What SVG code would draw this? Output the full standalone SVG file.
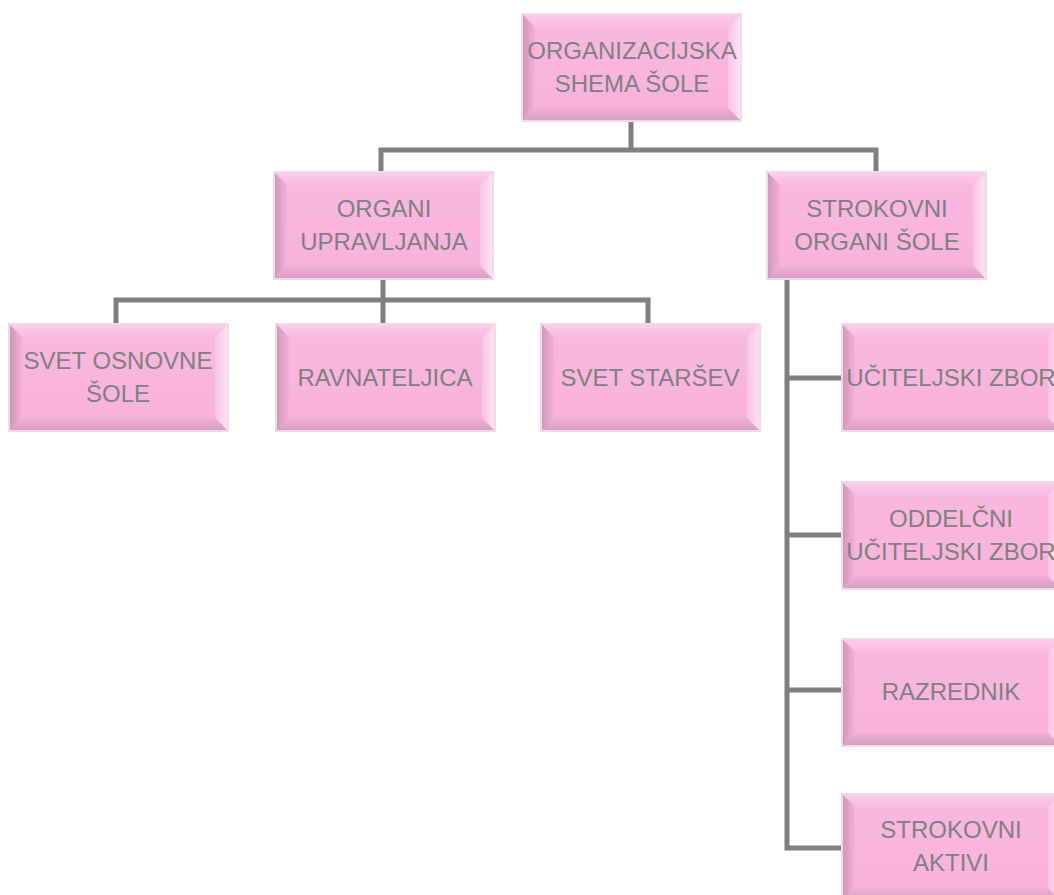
<svg xmlns="http://www.w3.org/2000/svg" width="1054" height="895" viewBox="0 0 1054 895">
<style>
.t{font-family:"Liberation Sans",Arial,sans-serif;font-size:24px;fill:#808080;text-anchor:middle}
.c{stroke:#7f7f7f;stroke-width:5;fill:none;stroke-linejoin:miter}
</style>
<defs>
<linearGradient id="gl" x1="0" y1="0" x2="1" y2="0"><stop offset="0" stop-color="#cf97b9"/><stop offset="1" stop-color="#f4b0d9"/></linearGradient>
<linearGradient id="gt" x1="0" y1="0" x2="0" y2="1"><stop offset="0" stop-color="#fccbe9"/><stop offset="1" stop-color="#f9bbe1"/></linearGradient>
<linearGradient id="gr" x1="0" y1="0" x2="1" y2="0"><stop offset="0" stop-color="#fac3e6"/><stop offset="1" stop-color="#fde0f3"/></linearGradient>
<linearGradient id="gb" x1="0" y1="0" x2="0" y2="1"><stop offset="0" stop-color="#f2afd7"/><stop offset="1" stop-color="#d89fc2"/></linearGradient>
<linearGradient id="gm" x1="0" y1="0" x2="0" y2="1"><stop offset="0" stop-color="#f9b8df"/><stop offset="1" stop-color="#f8b2dc"/></linearGradient>
<g id="box">
<rect x="-1" y="-1" width="219" height="107" fill="none" stroke="#eedbe7" stroke-width="2"/>
<rect x="0" y="0" width="217" height="105" fill="url(#gm)"/>
<polygon points="0,0 217,0 205,12 12,12" fill="url(#gt)"/>
<polygon points="0,0 12,12 12,93 0,105" fill="url(#gl)"/>
<polygon points="217,0 217,105 205,93 205,12" fill="url(#gr)"/>
<polygon points="0,105 12,93 205,93 217,105" fill="url(#gb)"/>
</g>
</defs>
<rect width="1054" height="895" fill="#ffffff"/>
<g id="connectors">
<polyline class="c" points="631,120 631,150"/>
<polyline class="c" points="381,173 381,150 876,150 876,173"/>
<polyline class="c" points="383,277 383,300"/>
<polyline class="c" points="116,325 116,300 648,300 648,325"/>
<line class="c" x1="383" y1="300" x2="383" y2="325"/>
<polyline class="c" points="787,277 787,848 843,848"/>
<line class="c" x1="787" y1="378" x2="843" y2="378"/>
<line class="c" x1="787" y1="535" x2="843" y2="535"/>
<line class="c" x1="787" y1="690" x2="843" y2="690"/>
</g>
<g id="n-org"><use href="#box" x="523" y="15"/><text class="t" x="632" y="59">ORGANIZACIJSKA</text><text class="t" x="632" y="92">SHEMA ŠOLE</text></g>
<g id="n-upr"><use href="#box" x="275" y="173"/><text class="t" x="384" y="217">ORGANI</text><text class="t" x="384" y="250">UPRAVLJANJA</text></g>
<g id="n-strok"><use href="#box" x="768" y="173"/><text class="t" x="877" y="217">STROKOVNI</text><text class="t" x="877" y="250">ORGANI ŠOLE</text></g>
<g id="n-svet"><use href="#box" x="10" y="325"/><text class="t" x="118" y="369">SVET OSNOVNE</text><text class="t" x="118" y="402">ŠOLE</text></g>
<g id="n-rav"><use href="#box" x="277" y="325"/><text class="t" x="385" y="386">RAVNATELJICA</text></g>
<g id="n-star"><use href="#box" x="542" y="325"/><text class="t" x="650" y="386">SVET STARŠEV</text></g>
<g id="n-ucz"><use href="#box" x="843" y="325"/><text class="t" x="951" y="386">UČITELJSKI ZBOR</text></g>
<g id="n-odd"><use href="#box" x="843" y="483"/><text class="t" x="951" y="527">ODDELČNI</text><text class="t" x="951" y="560">UČITELJSKI ZBOR</text></g>
<g id="n-raz"><use href="#box" x="843" y="640"/><text class="t" x="951" y="700">RAZREDNIK</text></g>
<g id="n-akt"><use href="#box" x="843" y="795"/><text class="t" x="951" y="838">STROKOVNI</text><text class="t" x="951" y="871">AKTIVI</text></g>
</svg>
